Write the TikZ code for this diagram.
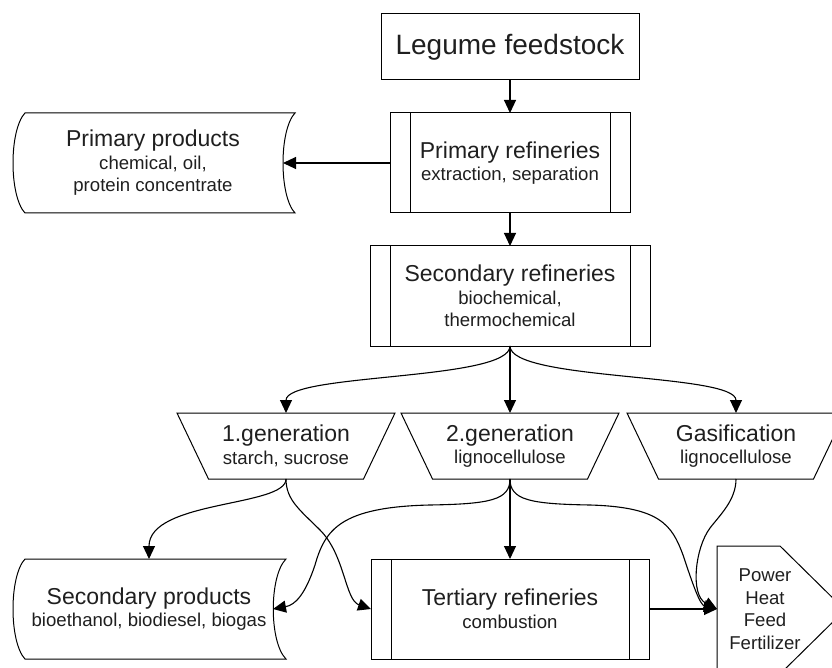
\documentclass[tikz,border=0pt]{standalone}
\usepackage{fontspec}
\setmainfont{Liberation Sans}
\usetikzlibrary{arrows.meta,calc}
\newcommand\mainsz{\fontsize{23}{27}\selectfont}
\newcommand\subsz{\fontsize{18.6}{22.5}\selectfont}
\newcommand\titlesz{\fontsize{28}{32}\selectfont}
\begin{document}
\begin{tikzpicture}[x=1pt,y=-1pt,
  line width=1pt,
  lbl/.style={inner sep=0pt, outer sep=0pt, align=center, font=\subsz, text=black!88},
  boxed/.style={lbl, draw},
  proc/.style={lbl, draw, minimum height=100pt,
    path picture={\draw[line width=1pt]
      ([xshift=20pt]path picture bounding box.north west) -- ([xshift=20pt]path picture bounding box.south west)
      ([xshift=-20pt]path picture bounding box.north east) -- ([xshift=-20pt]path picture bounding box.south east);}},
  arr/.style={-{Triangle[length=13pt,width=12pt]}, line width=1.1pt},
]
\clip (0,0) rectangle (832,668);

% nodes
\node[boxed, minimum width=258pt, minimum height=66pt, font=\titlesz] (leg) at (510,47) {Legume feedstock};
\node[proc, minimum width=240pt] (pr) at (510,163) {{\mainsz Primary refineries}\\extraction, separation};
\node[proc, minimum width=280pt] (sr) at (510,296) {{\mainsz Secondary refineries}\\biochemical,\\thermochemical};

\node[lbl, minimum width=260pt, minimum height=100pt] (pp) at (153,163) {{\mainsz Primary products}\\chemical, oil,\\protein concentrate};
\draw (25,113) -- (295,113) .. controls (279,130) and (279,196) .. (295,213) -- (25,213) .. controls (9,196) and (9,130) .. (25,113) -- cycle;

\node[lbl, minimum width=155pt, minimum height=66pt] (g1) at (286,446) {{\mainsz 1.generation}\\starch, sucrose};
\draw (g1.north) ++(-109,0) -- ++(218,0) -- ++(-31.5,66) -- ++(-155,0) -- cycle;
\node[lbl, minimum width=155pt, minimum height=66pt] (g2) at (510,446) {{\mainsz 2.generation}\\lignocellulose};
\draw (g2.north) ++(-109,0) -- ++(218,0) -- ++(-31.5,66) -- ++(-155,0) -- cycle;
\node[lbl, minimum width=155pt, minimum height=66pt] (gas) at (736,446) {{\mainsz Gasification}\\lignocellulose};
\draw (gas.north) ++(-109,0) -- ++(218,0) -- ++(-31.5,66) -- ++(-155,0) -- cycle;

\node[lbl, minimum width=248pt, minimum height=100pt] (sp) at (149,609) {{\mainsz Secondary products}\\bioethanol, biodiesel, biogas};
\draw (25,559) -- (286,559) .. controls (269,576) and (269,642) .. (286,659) -- (25,659) .. controls (9,642) and (9,576) .. (25,559) -- cycle;

\node[proc, minimum width=278pt] (tr) at (510,609) {{\mainsz Tertiary refineries}\\combustion};

\node[lbl, minimum width=96pt, minimum height=128pt] (prod) at (765,609) {Power\\Heat\\Feed\\Fertilizer};
\draw (717,546) -- (780,546) -- (845,610) -- (780,674) -- (717,674) -- cycle;

% connectors
\draw[arr] (leg.south) -- (pr.north);
\draw[arr] (pr.west) -- (pp.east);
\draw[arr] (pr.south) -- (sr.north);
\draw[arr] (sr.south) .. controls +(0,35) and +(0,-40) .. (g1.north);
\draw[arr] (sr.south) -- (g2.north);
\draw[arr] (sr.south) .. controls +(0,35) and +(0,-40) .. (gas.north);
\draw[arr] (g1.south) .. controls +(0,28) and +(0,-59) .. (sp.north);
\draw[arr] (g1.south) .. controls +(0,21) and (300,510) .. (320,530) .. controls (345,555) and (345,600) .. (tr.west);
\draw[arr] (g2.south) .. controls +(0,21) and (490,504) .. (430,505) .. controls (340,507) and (325,530) .. (315,565) .. controls (305,595) and (295,605) .. (sp.east);
\draw[arr] (g2.south) -- (tr.north);
\draw[arr] (g2.south) .. controls +(0,21) and (530,504) .. (590,505) .. controls (660,507) and (672,525) .. (683,555) .. controls (693,585) and (700,605) .. (prod.west);
\draw[arr] (gas.south) .. controls +(0,21) and (720,515) .. (710,528) .. controls (695,548) and (690,595) .. (prod.west);
\draw[arr] (tr.east) -- (prod.west);
\end{tikzpicture}
\end{document}
